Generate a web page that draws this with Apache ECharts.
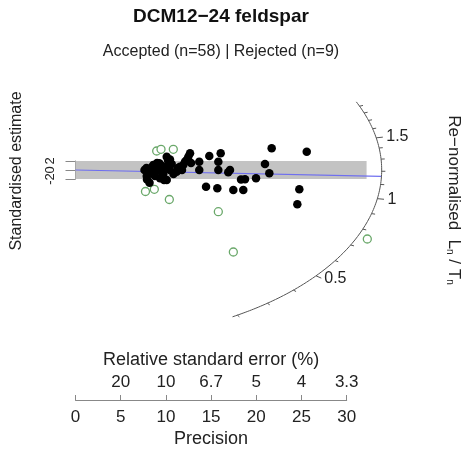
<!DOCTYPE html>
<html>
<head>
<meta charset="utf-8">
<script src="https://cdn.jsdelivr.net/npm/echarts@6/dist/echarts.min.js"></script>
<style>
	html, body { margin: 0; padding: 0; background: #fff; }
	#chart { width: 469px; height: 454px; }
</style>
</head>
<body>
<div id="chart"></div>
<script>
// accepted aliquots: precision (1/rse) and standardised estimate
var acceptedPrecision = [7.63, 7.85, 7.88, 7.91, 8.19, 8.30, 8.46, 8.61, 8.74, 8.79, 8.96, 9.02, 9.27, 9.24, 9.35, 9.51, 9.57, 9.71, 9.79, 9.90,
	10.09, 10.09, 10.23, 10.45, 10.45, 10.64, 10.84, 11.19, 11.34, 11.56, 11.78, 11.92, 12.11, 12.30, 12.48, 12.67, 12.78,
	13.69, 13.69, 14.80, 16.06, 15.80, 15.80, 16.90, 17.09, 14.44, 15.69, 17.46, 18.56, 18.75, 18.31, 19.97, 20.96, 21.44, 21.70, 25.58, 24.76, 24.54];
var acceptedZ = [0, 0.44, -1.33, -2.11, -2.82, -0.67, 0.67, 1.11, -0.44, -1.33, 0, 1.56, 1.49, 0.44, -1.84, -0.33, 0.89, -0.89, -2.22, 0.73,
	2.96, -2.22, 2.22, 2.33, 0, 1.33, -0.89, -0.38, 0.44, 0.73, 0, 1.11, 1.84, 2.22, 2.96, 3.71, 1.56,
	1.84, 0, 3.11, 3.71, 1.84, 0, -0.51, 0, -3.71, -4.07, -4.44, -4.44, -2.07, -2.11, -1.84, 1.33, -0.73, 4.82, 4.07, -4.29, -7.62];

// rejected aliquots
var rejectedPrecision = [8.98, 9.46, 10.82, 7.74, 8.72, 10.38, 15.80, 17.46, 32.28];
var rejectedZ = [4.22, 4.60, 4.60, -4.78, -4.29, -6.56, -9.27, -18.22, -15.33];

// axes
var precisionTicks = [0, 5, 10, 15, 20, 25, 30];
var rseLabels = ["", "20", "10", "6.7", "5", "4", "3.3"];
var zTicks = [-2, 0, 2];

// radial scale (Ln/Tn)
var arcMajor = [0.5, 1, 1.5];
var arcMinor = [0.2, 0.3, 0.4, 0.6, 0.7, 0.8, 0.9, 1.1, 1.2, 1.3, 1.4, 1.6, 1.7, 1.8, 1.9];
var arcFrom = 0.185;
var arcTo = 1.97;
var zCentre = 1.21;      // value at z = 0
var centralValue = 1.16; // blue line
var bandRight = 32.2;

var FONT = "Liberation Sans";

(function(window)
{
	var arcA = 33.87, arcB = 38.0;
	
	// point on the arc for value v (precision, z)
	function arcPoint(v, f)
	{
		var s = Math.log(v) - Math.log(zCentre);
		var x = 1 / Math.sqrt(1 / (arcA * arcA) + s * s / (arcB * arcB));
		f = (f || 1);
		return [x * f, s * x * f];
	}
	
	var arcData = [];
	var n = 160;
	var s0 = Math.log(arcFrom), s1 = Math.log(arcTo);
	for(var i=0; i<=n; i++)
		arcData.push(arcPoint(Math.exp(s0 + (s1 - s0) * i / n)));
	
	var acceptedData = [];
	for(var i=0; i<acceptedPrecision.length; i++)
		acceptedData.push([acceptedPrecision[i], acceptedZ[i]]);
	
	var rejectedData = [];
	for(var i=0; i<rejectedPrecision.length; i++)
		rejectedData.push([rejectedPrecision[i], rejectedZ[i]]);
	
	var tickData = [];
	for(var i=0; i<arcMajor.length; i++)
		tickData.push([arcMajor[i], 1]);
	for(var i=0; i<arcMinor.length; i++)
		tickData.push([arcMinor[i], 0]);
	
	// z axis bracket labels, drawn rotated beside the short axis
	var zLabelData = [];
	for(var i=0; i<zTicks.length; i++)
		zLabelData.push([0, zTicks[i]]);
	
	var chart = echarts.init(document.getElementById("chart"));
	
	var option =
	{
		animation: false,
		textStyle: { fontFamily: FONT },
		grid:
		[
			{ left: 75.5, top: 57.5, width: 361.6, height: 337.5 },
			{ left: 75.5, top: 399, width: 271.2, height: 1 },
			{ left: 75.5, top: 161, width: 1, height: 18 }
		],
		xAxis:
		[
			{ gridIndex: 0, type: "value", min: 0, max: 40, show: false },
			{
				gridIndex: 1, type: "value", min: 0, max: 30, interval: 5, position: "bottom",
				axisLine: { lineStyle: { color: "#888", width: 1 } },
				axisTick: { inside: true, length: 5, lineStyle: { color: "#888" } },
				splitLine: { show: false },
				axisLabel: { color: "#222", fontSize: 17, margin: 9 },
				name: "Precision", nameLocation: "middle", nameGap: 30,
				nameTextStyle: { color: "#222", fontSize: 18 }
			},
			{
				gridIndex: 1, type: "value", min: 0, max: 30, interval: 5, position: "top",
				axisLine: { show: false }, axisTick: { show: false }, splitLine: { show: false },
				axisLabel: { color: "#222", fontSize: 17, margin: 8,
					formatter: function(v) { return rseLabels[Math.round(v / 5)]; } },
				name: "Relative standard error (%)", nameLocation: "middle", nameGap: 30,
				nameTextStyle: { color: "#222", fontSize: 18 }
			},
			{ gridIndex: 2, type: "value", min: 0, max: 1, show: false }
		],
		yAxis:
		[
			{ gridIndex: 0, type: "value", min: -50, max: 25, show: false },
			{ gridIndex: 1, type: "value", min: 0, max: 1, show: false },
			{
				gridIndex: 2, type: "value", min: -2, max: 2, interval: 2, position: "left",
				axisLine: { show: true, lineStyle: { color: "#888" } },
				axisTick: { show: true, length: 10, lineStyle: { color: "#888" } },
				splitLine: { show: false },
				axisLabel: { show: false }
			}
		],
		series:
		[
			{
				type: "line", xAxisIndex: 0, yAxisIndex: 0, z: 1,
				data: [[0, 0], arcPoint(centralValue)],
				showSymbol: false, silent: true,
				lineStyle: { color: "#6f6fef", width: 1.2 },
				markArea:
				{
					silent: true,
					itemStyle: { color: "#c3c3c3" },
					data: [[{ xAxis: 0, yAxis: -2 }, { xAxis: bandRight, yAxis: 2 }]]
				}
			},
			{
				type: "line", xAxisIndex: 0, yAxisIndex: 0, z: 2,
				data: arcData, showSymbol: false, silent: true,
				lineStyle: { color: "#555", width: 1 }
			},
			{
				type: "custom", xAxisIndex: 0, yAxisIndex: 0, z: 2,
				data: tickData, silent: true,
				renderItem: function(params, api)
				{
					var v = api.value(0), major = api.value(1);
					var p0 = api.coord(arcPoint(v));
					var p1 = api.coord(arcPoint(v, major ? 1.022 : 1.012));
					var children =
					[
						{ type: "line", shape: { x1: p0[0], y1: p0[1], x2: p1[0], y2: p1[1] },
							style: { stroke: "#555", lineWidth: 1 } }
					];
					if(major)
					{
						var p2 = api.coord(arcPoint(v, 1.03));
						children.push({ type: "text",
							style: { text: String(v), x: p2[0] + 1, y: p2[1], textAlign: "left", textVerticalAlign: "middle",
								fontSize: 16, fontFamily: FONT, fill: "#222" } });
					}
					return { type: "group", children: children };
				}
			},
			{
				type: "custom", xAxisIndex: 0, yAxisIndex: 0, z: 2,
				data: zLabelData, silent: true,
				renderItem: function(params, api)
				{
					var p = api.coord([api.value(0), api.value(1)]);
					return { type: "text", x: p[0] - 25, y: p[1], rotation: Math.PI / 2,
						style: { text: String(api.value(1)), textAlign: "center", textVerticalAlign: "middle",
							fontSize: 13, fontFamily: FONT, fill: "#222" } };
				}
			},
			{
				type: "scatter", xAxisIndex: 0, yAxisIndex: 0, z: 3,
				data: rejectedData, symbol: "circle", symbolSize: 8,
				itemStyle: { color: "#fff", borderColor: "#6aa86a", borderWidth: 1.3, opacity: 1 }
			},
			{
				type: "scatter", xAxisIndex: 0, yAxisIndex: 0, z: 4,
				data: acceptedData, symbol: "circle", symbolSize: 8.5,
				itemStyle: { color: "#000", opacity: 1 }
			}
		],
		graphic:
		[
			{ type: "text", x: 221, y: 17,
				style: { text: "DCM12\u221224 feldspar", textAlign: "center", textVerticalAlign: "middle",
					font: "bold 19px " + FONT, fill: "#111" } },
			{ type: "text", x: 221, y: 52,
				style: { text: "Accepted (n=58) | Rejected (n=9)", textAlign: "center", textVerticalAlign: "middle",
					font: "16px " + FONT, fill: "#222" } },
			{ type: "text", x: 17, y: 171, rotation: Math.PI / 2,
				style: { text: "Standardised estimate", textAlign: "center", textVerticalAlign: "middle",
					font: "16px " + FONT, fill: "#222" } },
			{ type: "text", x: 455, y: 200, rotation: -Math.PI / 2,
				style: { text: "{a|Re\u2212normalised  L}{s|n}{a| / T}{s|n}", textAlign: "center", textVerticalAlign: "middle",
					rich: {
						a: { fontSize: 17, fontFamily: FONT, fill: "#222", verticalAlign: "bottom", lineHeight: 20 },
						s: { fontSize: 10, fontFamily: FONT, fill: "#222", verticalAlign: "bottom", lineHeight: 14 }
					} } }
		]
	};
	
	chart.setOption(option);
})
(window);
</script>
</body>
</html>
